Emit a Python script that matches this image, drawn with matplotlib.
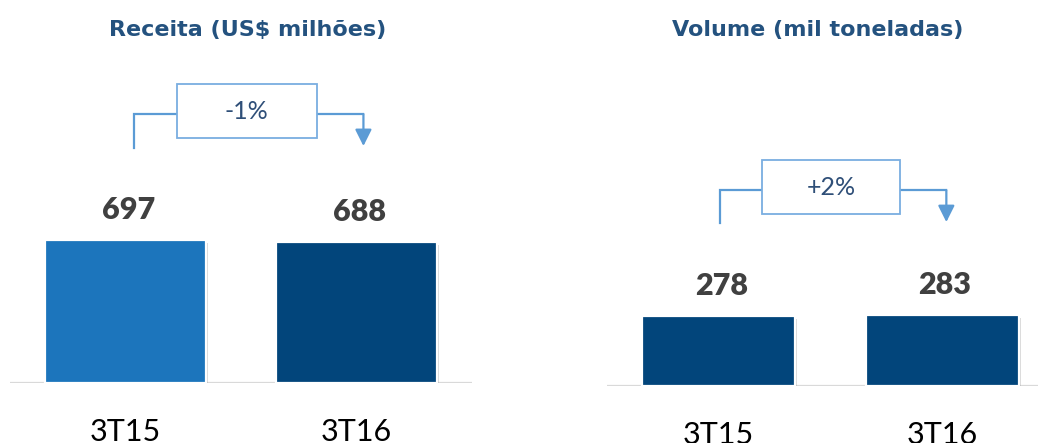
import matplotlib
import matplotlib.pyplot as plt
from matplotlib.patches import Rectangle
import matplotlib.patheffects as pe

matplotlib.use("Agg")

CATEGORIES = ["3T15", "3T16"]
RECEITA = [697, 688]
VOLUME = [278, 283]
RECEITA_CHANGE = "-1%"
VOLUME_CHANGE = "+2%"

TITLE_BLUE = "#24527f"
LABEL_GREY = "#404040"
LINE_BLUE = "#5b9bd5"
BOX_BLUE = "#7aaee0"
TEXT_BLUE = "#2f4f78"
BASE_GREY = "#d9d9d9"

W, H = 1038, 443
fig = plt.figure(figsize=(W / 100, H / 100), dpi=100)


def panel(rect, ylim, xlim, values, colors, change, br):
    ax = fig.add_axes(rect)
    ax.set_xlim(*xlim)
    ax.set_ylim(0, ylim)
    ax.axhline(0, color=BASE_GREY, lw=1.6, zorder=1)
    shadow = [pe.SimplePatchShadow(offset=(1.5, -2.5), shadow_rgbFace="#909090", alpha=0.35),
              pe.Normal()]
    bars = ax.bar(range(len(values)), values, width=br["width"], color=colors,
                  edgecolor="white", linewidth=1.6, zorder=2)
    for b in bars:
        b.set_path_effects(shadow)
    for i, v in enumerate(values):
        ax.annotate(str(v), (i, v), xytext=(2, 15), textcoords="offset points",
                    ha="center", va="baseline", fontsize=22, fontweight="heavy",
                    color=LABEL_GREY, family="Lato")
    ax.set_xticks(range(len(values)), CATEGORIES)
    ax.tick_params(axis="x", length=0, pad=25, labelsize=22, labelcolor="black")
    for lbl in ax.get_xticklabels():
        lbl.set_family("Lato")
    ax.set_yticks([])
    for s in ax.spines.values():
        s.set_visible(False)
    ax.patch.set_alpha(0)

    # change bracket
    xl, xr = br["xl"], br["xr"]
    bx0, bx1, by0, by1 = br["box"]
    yh, ylow, ytip = br["yh"], br["ylow"], br["ytip"]
    ax.plot([xl, xl, bx0], [ylow, yh, yh], color=LINE_BLUE, lw=1.6, clip_on=False,
            solid_joinstyle="miter")
    ax.plot([bx1, xr], [yh, yh], color=LINE_BLUE, lw=1.6, clip_on=False)
    ax.annotate("", xy=(xr, ytip), xytext=(xr, yh),
                arrowprops=dict(arrowstyle="-|>,head_length=1.0,head_width=0.5",
                                color=LINE_BLUE, lw=1.6, shrinkA=0, shrinkB=0))
    ax.add_patch(Rectangle((bx0, by0), bx1 - bx0, by1 - by0, facecolor="white",
                           edgecolor=BOX_BLUE, lw=1.3, clip_on=False, zorder=3))
    ax.text((bx0 + bx1) / 2, (by0 + by1) / 2, change, ha="center", va="center",
            fontsize=18, fontweight="normal", color=TEXT_BLUE, family="Lato", zorder=4)
    return ax


# left panel: baseline at y=383px, 0.20516 px per unit
panel([10 / W, 60 / H, 462 / W, 383 / H], 1866.8, (-0.5, 1.5), RECEITA,
      ["#1c75bc", "#02457b"], RECEITA_CHANGE,
      dict(width=0.695, xl=0.037, xr=1.03, yh=1311, ylow=1145, ytip=1155,
           box=(0.222, 0.827, 1194, 1457)))

# right panel: baseline at y=386px, 0.2518 px per unit
panel([607 / W, 57 / H, 431 / W, 386 / H], 1533, (-0.5, 1.428), VOLUME,
      ["#02457b", "#02457b"], VOLUME_CHANGE,
      dict(width=0.685, xl=0.007, xr=1.018, yh=778, ylow=647, ytip=651,
           box=(0.195, 0.812, 683, 897)))

fig.text(248 / W, 1 - 30 / H, "Receita (US$ milhões)", ha="center", va="center",
         fontsize=16, fontweight="bold", color=TITLE_BLUE, family="DejaVu Sans")
fig.text(818 / W, 1 - 30 / H, "Volume (mil toneladas)", ha="center", va="center",
         fontsize=16, fontweight="bold", color=TITLE_BLUE, family="DejaVu Sans")

fig.savefig("out.png", dpi=100, facecolor="white")
